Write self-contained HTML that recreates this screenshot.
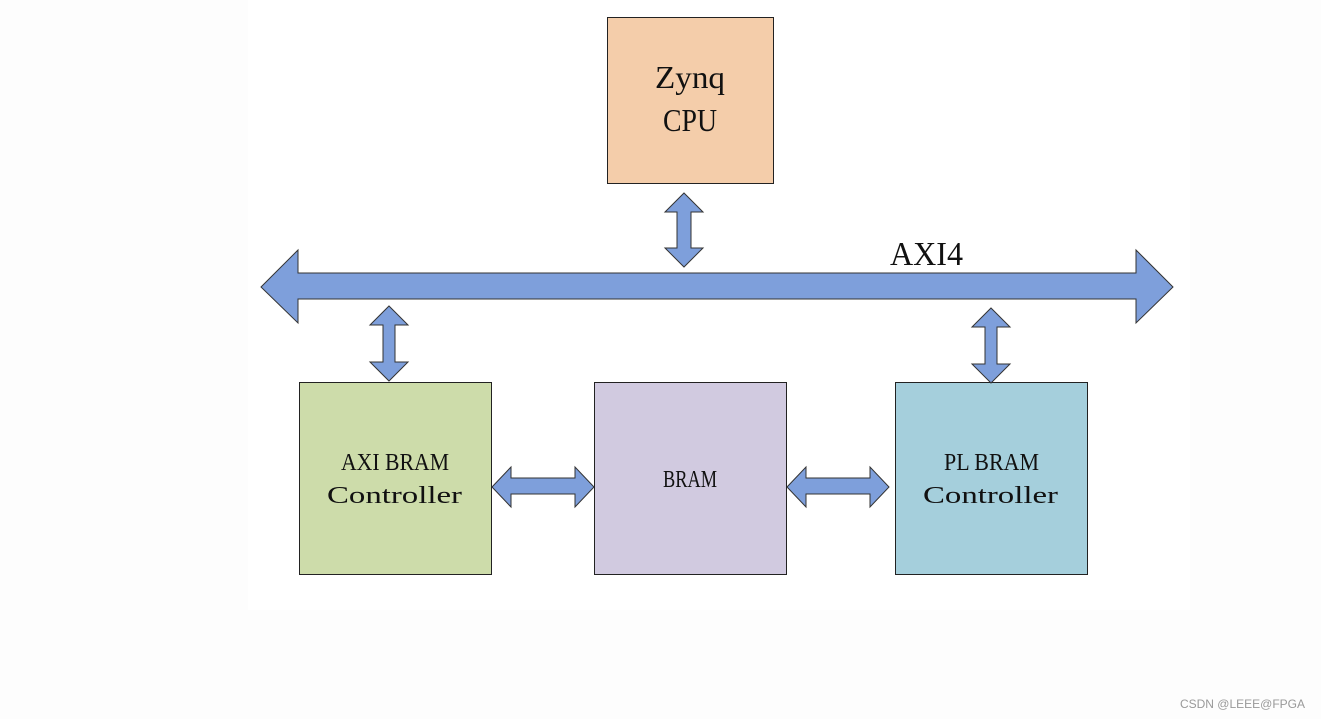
<!DOCTYPE html>
<html><head><meta charset="utf-8"><style>
html,body{margin:0;padding:0;background:#fdfdfd;}
svg{display:block}
</style></head><body>
<svg width="1321" height="719" viewBox="0 0 1321 719" xmlns="http://www.w3.org/2000/svg">
<rect x="0" y="0" width="1321" height="719" fill="#fdfdfd"/>
<rect x="248" y="0" width="942" height="610" fill="#ffffff"/>
<g stroke="#222" stroke-width="1" fill="none">
<rect x="607.5" y="17.5" width="166" height="166" fill="#f4cdaa"/>
<rect x="299.5" y="382.5" width="192" height="192" fill="#cddcaa"/>
<rect x="594.5" y="382.5" width="192" height="192" fill="#d1cae0"/>
<rect x="895.5" y="382.5" width="192" height="192" fill="#a5cfdc"/>
</g>
<g fill="#7e9fdb" stroke="#333" stroke-width="1" stroke-linejoin="miter">
<!-- main bus -->
<polygon points="261,287 298,250 298,273 1136,273 1136,250 1173,287 1136,323 1136,299 298,299 298,323"/>
<!-- CPU vertical -->
<polygon points="684,193 703,212 691,212 691,248 703,248 684,267 665,248 677,248 677,212 665,212"/>
<!-- left vertical -->
<polygon points="389,306 408,325 395,325 395,362 408,362 389,381 370,362 383,362 383,325 370,325"/>
<!-- right vertical -->
<polygon points="991,308 1010,327 997,327 997,364 1010,364 991,383 972,364 985,364 985,327 972,327"/>
<!-- horizontal left -->
<polygon points="492,487 511,467 511,478 575,478 575,467 594,487 575,507 575,494 511,494 511,507"/>
<!-- horizontal right -->
<polygon points="787,487 806,467 806,478 870,478 870,467 889,487 870,507 870,494 806,494 806,507"/>
</g>
<g font-family="Liberation Serif, serif" fill="#111">
<text x="655" y="88" font-size="32" textLength="70" lengthAdjust="spacingAndGlyphs">Zynq</text>
<text x="663" y="131" font-size="32" textLength="54" lengthAdjust="spacingAndGlyphs">CPU</text>
<text x="890" y="265" font-size="34" textLength="73" lengthAdjust="spacingAndGlyphs">AXI4</text>
<text x="341" y="470" font-size="24" textLength="108" lengthAdjust="spacingAndGlyphs">AXI BRAM</text>
<text x="327" y="503" font-size="24" textLength="135" lengthAdjust="spacingAndGlyphs">Controller</text>
<text x="663" y="487" font-size="24" textLength="54" lengthAdjust="spacingAndGlyphs">BRAM</text>
<text x="944" y="470" font-size="24" textLength="95" lengthAdjust="spacingAndGlyphs">PL BRAM</text>
<text x="923" y="503" font-size="24" textLength="135" lengthAdjust="spacingAndGlyphs">Controller</text>
</g>
<text x="1305" y="708" font-family="Liberation Sans, sans-serif" font-size="12" fill="#999" text-anchor="end">CSDN @LEEE@FPGA</text>
</svg>
</body></html>
